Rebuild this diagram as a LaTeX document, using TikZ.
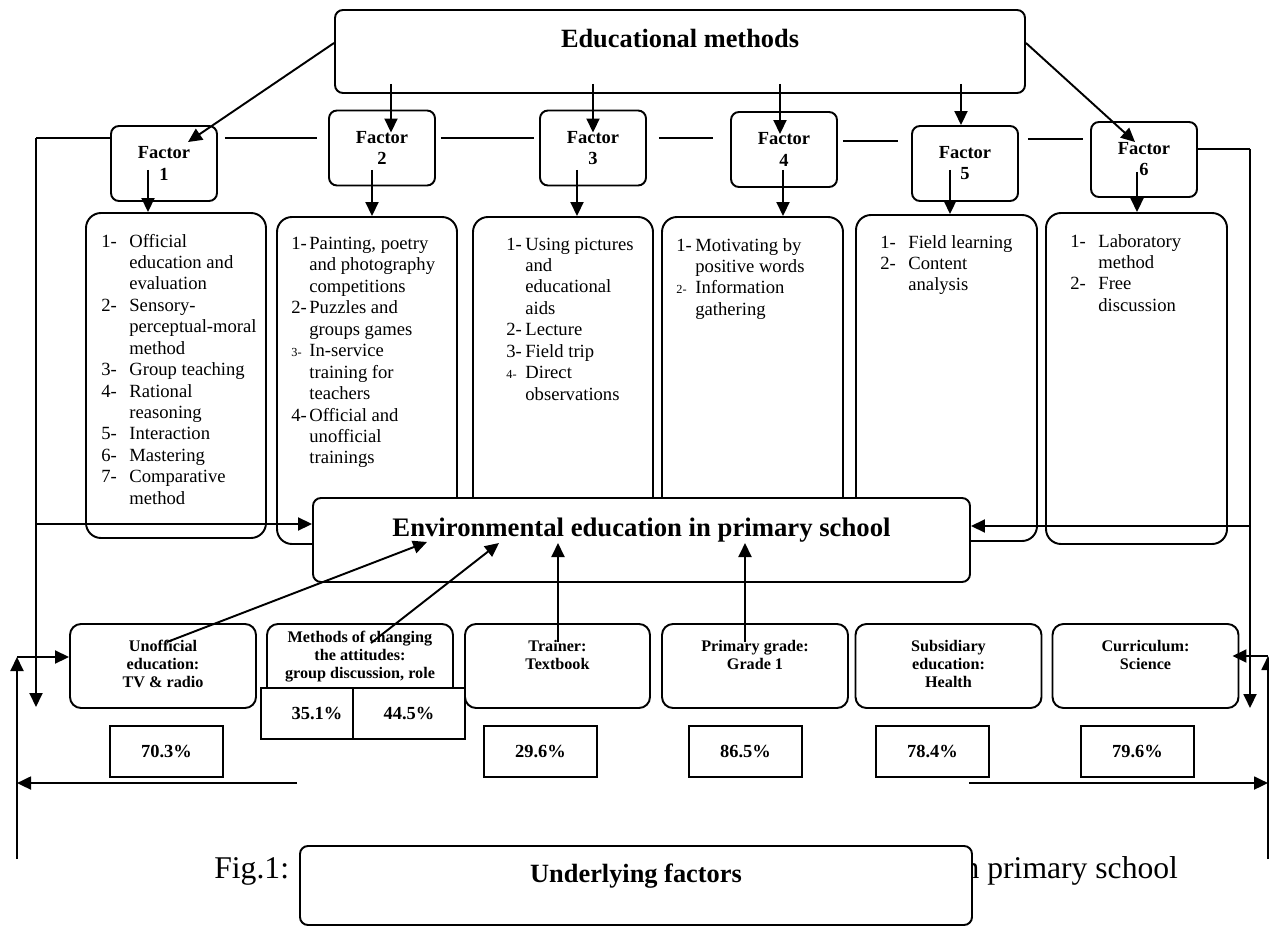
\documentclass[tikz,border=0pt]{standalone}
\usepackage{fontspec}
\setmainfont{Liberation Serif}
\usetikzlibrary{arrows.meta}

\newcommand{\factorlist}[2]{\begin{tabular}[t]{@{}p{#1}@{}l@{}}#2\end{tabular}}
\newcommand{\tinynum}[1]{{\fontsize{7}{8}\selectfont #1}}
\newcommand{\stacked}[1]{\begin{tabular}[t]{@{}c@{}}#1\end{tabular}}

\begin{document}
\begin{tikzpicture}[
    rbox/.style={draw, line width=1.1pt, rounded corners=0.16cm, fill=white, inner sep=0pt},
    factor/.style={rbox, minimum width=2.12cm, minimum height=1.5cm, align=center, font=\fontsize{10.5}{12}\selectfont\bfseries},
    listbox/.style={rbox, rounded corners=0.3cm, minimum width=3.6cm},
    listtext/.style={anchor=base west, inner sep=0pt, font=\fontsize{10.6}{12.2}\selectfont},
    smallbox/.style={rbox, rounded corners=0.22cm, minimum width=3.72cm, minimum height=1.68cm},
    smalltext/.style={anchor=base, inner sep=0pt, font=\fontsize{9.2}{10.4}\selectfont\bfseries},
    pct/.style={draw, line width=1.1pt, fill=white, inner sep=0pt, minimum width=2.26cm, minimum height=1.02cm, font=\fontsize{10.5}{12}\selectfont\bfseries},
    heading/.style={anchor=base, inner sep=0pt, font=\fontsize{15}{18}\selectfont\bfseries},
    caption/.style={anchor=base west, inner sep=0pt, font=\fontsize{18}{22}\selectfont},
    arr/.style={-{Triangle[length=0.28cm,width=0.26cm]}, line width=1.1pt},
    link/.style={line width=1.1pt}
]
\useasboundingbox (0,0) rectangle (25.38,-18.54);

% Caption (partly hidden by the bottom box)
\node[caption] (cap1) at (4.28,-17.56) {Fig.1:};
\node[caption] (cap2) at (19.09,-17.56) {in primary school};

% Educational methods
\node[rbox, minimum width=13.8cm, minimum height=1.66cm] (E) at (13.6,-1.03) {};
\node[heading] (Et) at ([yshift=-0.76cm]E.north) {Educational methods};

% Factors
\node[factor] (F1) at (3.28,-3.27) {Factor\\1};
\node[factor] (F2) at (7.64,-2.96) {Factor\\2};
\node[factor] (F3) at (11.86,-2.96) {Factor\\3};
\node[factor] (F4) at (15.68,-2.99) {Factor\\4};
\node[factor] (F5) at (19.30,-3.27) {Factor\\5};
\node[factor] (F6) at (22.88,-3.19) {Factor\\6};

% Method lists
\node[listbox, minimum height=6.5cm] (L1) at (3.52,-7.51) {};
\node[listbox, minimum height=6.54cm] (L2) at (7.34,-7.61) {};
\node[listbox, minimum height=6.54cm] (L3) at (11.26,-7.61) {};
\node[listbox, minimum width=3.62cm, minimum height=6.54cm] (L4) at (15.05,-7.61) {};
\node[listbox, minimum width=3.62cm, minimum height=6.52cm] (L5) at (18.93,-7.56) {};
\node[listbox, minimum width=3.62cm, minimum height=6.62cm] (L6) at (22.73,-7.57) {};

\node[listtext] (L1t) at ([xshift=0.32cm,yshift=-0.70cm]L1.north west) {\factorlist{0.56cm}{
1- & Official\\ & education and\\ & evaluation\\
2- & Sensory-\\ & perceptual-moral\\ & method\\
3- & Group teaching\\
4- & Rational\\ & reasoning\\
5- & Interaction\\
6- & Mastering\\
7- & Comparative\\ & method}};
\node[listtext] (L2t) at ([xshift=0.30cm,yshift=-0.67cm]L2.north west) {\factorlist{0.36cm}{
1- & Painting, poetry\\ & and photography\\ & competitions\\
2- & Puzzles and\\ & groups games\\
\tinynum{3-} & In-service\\ & training for\\ & teachers\\
4- & Official and\\ & unofficial\\ & trainings}};
\node[listtext] (L3t) at ([xshift=0.68cm,yshift=-0.68cm]L3.north west) {\factorlist{0.38cm}{
1- & Using pictures\\ & and\\ & educational\\ & aids\\
2- & Lecture\\
3- & Field trip\\
\tinynum{4-} & Direct\\ & observations}};
\node[listtext] (L4t) at ([xshift=0.30cm,yshift=-0.70cm]L4.north west) {\factorlist{0.38cm}{
1- & Motivating by\\ & positive words\\
\tinynum{2-} & Information\\ & gathering}};
\node[listtext] (L5t) at ([xshift=0.50cm,yshift=-0.68cm]L5.north west) {\factorlist{0.56cm}{
1- & Field learning\\
2- & Content\\ & analysis}};
\node[listtext] (L6t) at ([xshift=0.50cm,yshift=-0.70cm]L6.north west) {\factorlist{0.56cm}{
1- & Laboratory\\ & method\\
2- & Free\\ & discussion}};

% Environmental education
\node[rbox, minimum width=13.14cm, minimum height=1.68cm] (Env) at (12.83,-10.8) {};
\node[heading, font=\fontsize{15.2}{18}\selectfont\bfseries] (Envt) at ([yshift=-0.78cm]Env.north) {Environmental education in primary school};

% Underlying factors
\node[smallbox] (B1) at (3.26,-13.32) {};
\node[smalltext] (B1t) at ([yshift=-0.56cm]B1.north) {\stacked{Unofficial\\education:\\TV \& radio}};
\node[smallbox] (B2) at (7.2,-13.32) {};
\node[smalltext] (B2t) at ([yshift=-0.38cm]B2.north) {\stacked{Methods of changing\\the attitudes:\\group discussion, role}};
\node[smallbox, minimum width=3.7cm] (B3) at (11.15,-13.32) {};
\node[smalltext] (B3t) at ([yshift=-0.56cm]B3.north) {\stacked{Trainer:\\Textbook}};
\node[smallbox] (B4) at (15.1,-13.32) {};
\node[smalltext] (B4t) at ([yshift=-0.56cm]B4.north) {\stacked{Primary grade:\\Grade 1}};
\node[smallbox] (B5) at (18.97,-13.32) {};
\node[smalltext] (B5t) at ([yshift=-0.56cm]B5.north) {\stacked{Subsidiary\\education:\\Health}};
\node[smallbox] (B6) at (22.91,-13.32) {};
\node[smalltext] (B6t) at ([yshift=-0.56cm]B6.north) {\stacked{Curriculum:\\Science}};

% Percentages
\node[pct] (P1) at (3.33,-15.03) {70.3\%};
\node[pct, minimum width=1.84cm] (P2a) at (6.14,-14.27) {\hspace{0.4cm}35.1\%};
\node[pct, minimum width=2.24cm] (P2b) at (8.18,-14.27) {44.5\%};
\node[pct] (P3) at (10.81,-15.03) {29.6\%};
\node[pct] (P4) at (14.91,-15.03) {86.5\%};
\node[pct] (P5) at (18.65,-15.03) {78.4\%};
\node[pct] (P6) at (22.75,-15.03) {79.6\%};

\node[rbox, minimum width=13.44cm, minimum height=1.58cm] (U) at (12.72,-17.71) {};
\node[heading] (Ut) at ([yshift=-0.74cm]U.north) {Underlying factors};

% Arrows from the educational methods to the factors
\coordinate (c1) at ([xshift=0.48cm,yshift=-0.34cm]F1.north);
\coordinate (c2) at ([xshift=0.18cm,yshift=-0.46cm]F2.north);
\coordinate (c3) at ([yshift=-0.46cm]F3.north);
\coordinate (c4) at ([xshift=-0.08cm,yshift=-0.46cm]F4.north);
\coordinate (c5) at ([xshift=-0.08cm]F5.north);
\coordinate (c6) at ([xshift=-0.18cm,yshift=-0.42cm]F6.north);
\draw[arr] ([yshift=0.17cm]E.west) -- (c1);
\draw[arr, shorten <=-0.2cm] (c2 |- E.south) -- (c2);
\draw[arr, shorten <=-0.2cm] (c3 |- E.south) -- (c3);
\draw[arr, shorten <=-0.2cm] (c4 |- E.south) -- (c4);
\draw[arr, shorten <=-0.2cm] (c5 |- E.south) -- (c5);
\draw[arr] ([yshift=0.17cm]E.east) -- (c6);

% Arrows from the factors to the lists
\coordinate (d1) at ([xshift=-0.32cm,yshift=-0.13cm]F1.center);
\coordinate (d2) at ([xshift=-0.2cm,yshift=-0.44cm]F2.center);
\coordinate (d3) at ([xshift=-0.32cm,yshift=-0.44cm]F3.center);
\coordinate (d4) at ([xshift=-0.02cm,yshift=-0.41cm]F4.center);
\coordinate (d5) at ([xshift=-0.3cm,yshift=-0.13cm]F5.center);
\coordinate (d6) at ([xshift=-0.14cm,yshift=-0.25cm]F6.center);
\draw[arr] (d1) -- (d1 |- L1.north);
\draw[arr] (d2) -- (d2 |- L2.north);
\draw[arr] (d3) -- (d3 |- L3.north);
\draw[arr] (d4) -- (d4 |- L4.north);
\draw[arr] (d5) -- (d5 |- L5.north);
\draw[arr] (d6) -- (d6 |- L6.north);

% Line joining the factors and the side returns
\coordinate (lt) at (0.72,-2.76);
\coordinate (lb) at (0.72,-14.14);
\coordinate (rt) at (25.0,-2.98);
\coordinate (rb) at (25.0,-14.16);
\draw[link] ([yshift=0.51cm]F1.west) -- (lt);
\draw[link] ([xshift=0.14cm,yshift=0.51cm]F1.east) -- ([xshift=-0.22cm,yshift=0.2cm]F2.west);
\draw[link] ([xshift=0.1cm,yshift=0.2cm]F2.east) -- ([xshift=-0.1cm,yshift=0.2cm]F3.west);
\draw[link] ([xshift=0.24cm,yshift=0.2cm]F3.east) -- ([xshift=-0.34cm,yshift=0.23cm]F4.west);
\draw[link] ([xshift=0.1cm,yshift=0.17cm]F4.east) -- ([xshift=-0.26cm,yshift=0.45cm]F5.west);
\draw[link] ([xshift=0.18cm,yshift=0.49cm]F5.east) -- ([xshift=-0.14cm,yshift=0.41cm]F6.west);
\draw[link] ([yshift=0.21cm]F6.east) -- (rt);
\draw[arr] (lt) -- (lb);
\draw[arr] (rt) -- (rb);

\coordinate (ew) at ([yshift=0.32cm]Env.west);
\coordinate (ee) at ([yshift=0.28cm]Env.east);
\draw[arr] (lt |- ew) -- (ew);
\draw[arr] (rt |- ee) -- (ee);

% Arrows from the underlying factors to the environmental education
\coordinate (h0) at ([yshift=-0.06cm]Env.center);
\coordinate (g1) at ([xshift=0.08cm,yshift=0.48cm]B1.center);
\coordinate (g2) at ([xshift=0.22cm,yshift=0.46cm]B2.center);
\coordinate (g3) at ([xshift=0.01cm,yshift=0.48cm]B3.center);
\coordinate (g4) at ([xshift=-0.2cm,yshift=0.48cm]B4.center);
\draw[arr] (g1) -- ([xshift=-4.29cm,yshift=-0.04cm]Env.center);
\draw[arr] (g2) -- ([xshift=-2.85cm,yshift=-0.06cm]Env.center);
\draw[arr] (g3) -- (g3 |- h0);
\draw[arr] (g4) -- (g4 |- h0);

% Outer returns at the bottom
\coordinate (bl) at (0.34,-17.18);
\coordinate (br) at (25.36,-17.18);
\coordinate (b1w) at ([yshift=0.18cm]B1.west);
\coordinate (b6e) at ([xshift=-0.14cm,yshift=0.2cm]B6.east);
\draw[arr] (bl) -- (bl |- b1w);
\draw[arr] (bl |- b1w) -- (b1w);
\draw[arr] (br) -- (br |- b6e);
\draw[arr] (br |- b6e) -- (b6e);

\coordinate (ul) at ([xshift=-0.04cm,yshift=1.24cm]U.north west);
\coordinate (ur) at ([xshift=-0.08cm,yshift=1.24cm]U.north east);
\draw[arr] (ul) -- (ul -| bl);
\draw[arr] (ur) -- (ur -| br);

\end{tikzpicture}
\end{document}
